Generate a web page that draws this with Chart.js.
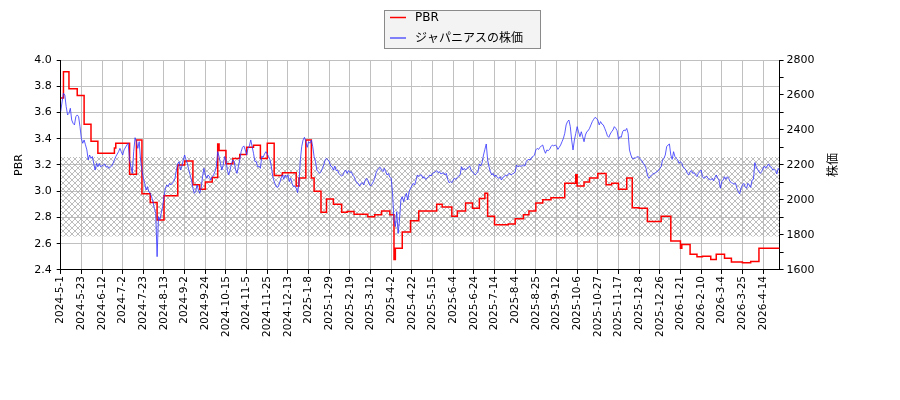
<!DOCTYPE html>
<html>
<head>
<meta charset="utf-8">
<script src="https://cdn.jsdelivr.net/npm/chart.js@4.4.1/dist/chart.umd.min.js"></script>
<style>html,body{margin:0;padding:0;background:#fff}</style>
</head>
<body>
<canvas id="chart" width="900" height="400"></canvas>
<script>
// tick labels, one every 15 trading days
const xTickLabels = ['2024-5-1','2024-5-23','2024-6-12','2024-7-2','2024-7-23','2024-8-13','2024-9-2','2024-9-24',
  '2024-10-15','2024-11-5','2024-11-25','2024-12-13','2025-1-8','2025-1-29','2025-2-19','2025-3-12','2025-4-2',
  '2025-4-22','2025-5-15','2025-6-4','2025-6-24','2025-7-14','2025-8-4','2025-8-25','2025-9-12','2025-10-6',
  '2025-10-27','2025-11-17','2025-12-8','2025-12-26','2026-1-21','2026-2-10','2026-3-4','2026-3-25','2026-4-14'];
const lastDay = 522;

// PBR: [trading day where the value starts, value]
const pbrSteps = [[0,3.71],[2,3.91],[6,3.78],[12,3.73],[17,3.51],[22,3.38],[27,3.29],[39,3.33],[40,3.365],[50,3.13],
  [55,3.39],[59,2.98],[65,2.915],[70,2.78],[75,2.965],[85,3.20],[90,3.23],[96,3.05],[101,3.015],[105,3.07],[110,3.105],
  [114,3.36],[115,3.31],[120,3.21],[125,3.25],[130,3.28],[135,3.335],[140,3.35],[145,3.25],[150,3.365],[155,3.12],
  [161,3.14],[171,3.04],[173,3.10],[178,3.39],[182,3.10],[184,3.00],[189,2.84],[193,2.94],[198,2.90],[204,2.84],
  [208,2.845],[213,2.825],[223,2.805],[228,2.82],[233,2.85],[239,2.82],[242,2.48],[243,2.565],[248,2.69],[254,2.775],
  [260,2.85],[273,2.90],[277,2.88],[284,2.81],[288,2.85],[294,2.91],[299,2.87],[304,2.945],[308,2.985],[310,2.81],
  [315,2.745],[325,2.75],[330,2.79],[336,2.82],[340,2.85],[345,2.91],[350,2.935],[356,2.95],[366,3.06],[374,3.125],
  [375,3.04],[380,3.07],[384,3.10],[390,3.135],[396,3.05],[400,3.06],[405,3.015],[411,3.10],[415,2.875],[420,2.87],
  [426,2.77],[436,2.81],[443,2.62],[450,2.565],[451,2.595],[457,2.52],[462,2.50],[466,2.505],[472,2.48],[476,2.52],
  [482,2.49],[487,2.46],[495,2.455],[501,2.465],[507,2.565],[522,2.565]];

// share price: [trading day, yen]
const stockPoints = [[0,2505],[1,2560],[2,2610],[3,2600],[4,2533],[5,2486],[6,2495],[7,2524],[8,2457],[9,2438],
  [10,2429],[11,2476],[12,2486],[13,2476],[14,2420],[15,2352],[16,2324],[17,2343],[18,2315],[19,2286],[20,2229],
  [21,2257],[22,2238],[23,2248],[24,2209],[25,2171],[26,2209],[27,2190],[28,2209],[29,2190],[31,2200],[32,2206],
  [33,2187],[34,2194],[35,2181],[37,2194],[38,2209],[39,2229],[40,2248],[42,2276],[43,2295],[44,2276],[45,2257],
  [46,2286],[48,2314],[49,2324],[50,2229],[51,2190],[52,2152],[53,2276],[54,2356],[55,2333],[56,2295],[57,2333],
  [58,2229],[59,2171],[60,2124],[61,2095],[62,2057],[63,2076],[64,2048],[65,2038],[66,2019],[67,1990],[68,1952],
  [69,1924],[70,1676],[71,1905],[72,1886],[73,1924],[74,1962],[75,2019],[76,2067],[77,2086],[78,2076],[79,2095],
  [80,2086],[82,2105],[83,2124],[84,2171],[85,2209],[86,2219],[87,2171],[88,2190],[89,2229],[90,2257],[91,2229],
  [92,2209],[93,2171],[94,2143],[95,2114],[96,2067],[97,2038],[98,2048],[99,2086],[100,2057],[101,2038],[102,2067],
  [103,2133],[104,2181],[105,2143],[106,2124],[107,2143],[108,2133],[109,2114],[110,2133],[111,2143],[112,2162],
  [113,2190],[114,2276],[115,2248],[116,2209],[117,2171],[118,2200],[119,2248],[120,2229],[121,2171],[122,2143],
  [123,2171],[124,2209],[125,2229],[126,2219],[127,2171],[128,2152],[129,2190],[130,2229],[131,2276],[132,2301],
  [133,2309],[134,2286],[135,2257],[136,2295],[137,2309],[138,2343],[139,2305],[140,2267],[141,2220],[142,2219],
  [143,2190],[144,2194],[145,2181],[146,2251],[147,2244],[148,2263],[149,2276],[150,2263],[151,2248],[152,2229],
  [153,2190],[154,2133],[155,2105],[156,2086],[157,2072],[158,2076],[159,2099],[160,2124],[161,2143],[162,2118],
  [163,2143],[164,2129],[165,2143],[166,2105],[167,2124],[168,2095],[169,2076],[170,2080],[171,2067],[172,2042],
  [173,2095],[174,2229],[175,2305],[176,2343],[177,2358],[178,2333],[179,2301],[180,2333],[181,2324],[182,2343],
  [183,2305],[184,2248],[185,2219],[186,2171],[187,2162],[188,2152],[189,2162],[190,2181],[191,2200],[192,2229],
  [193,2238],[194,2229],[195,2219],[196,2194],[197,2190],[198,2171],[199,2194],[200,2168],[201,2171],[202,2152],
  [203,2143],[204,2137],[205,2143],[206,2162],[207,2171],[208,2152],[209,2168],[210,2156],[211,2162],[212,2143],
  [213,2133],[214,2114],[215,2099],[216,2095],[217,2080],[218,2095],[219,2099],[220,2086],[221,2110],[222,2124],
  [223,2114],[224,2091],[225,2080],[226,2091],[227,2105],[228,2124],[229,2156],[230,2171],[231,2181],[232,2187],
  [233,2171],[234,2162],[235,2181],[236,2162],[237,2143],[238,2152],[239,2129],[240,2124],[241,2030],[242,1886],
  [243,1848],[244,1933],[245,1809],[246,1886],[247,2000],[248,2019],[249,1990],[250,2019],[251,2038],[252,2000],
  [253,2048],[254,2067],[255,2080],[256,2095],[257,2086],[258,2114],[259,2143],[260,2133],[261,2143],[262,2143],
  [263,2124],[264,2133],[265,2118],[266,2125],[267,2133],[268,2143],[269,2137],[270,2152],[271,2156],[272,2160],
  [273,2168],[274,2156],[275,2162],[276,2149],[277,2152],[278,2156],[279,2143],[280,2152],[281,2118],[282,2099],
  [283,2105],[284,2099],[285,2114],[286,2124],[287,2118],[288,2130],[289,2137],[290,2143],[291,2190],[292,2171],
  [293,2181],[294,2171],[295,2181],[296,2187],[297,2194],[298,2171],[299,2162],[300,2152],[301,2143],[302,2152],
  [303,2162],[304,2206],[305,2194],[306,2213],[307,2257],[308,2289],[309,2320],[310,2229],[311,2190],[312,2162],
  [313,2143],[314,2152],[315,2133],[316,2143],[317,2129],[318,2124],[319,2133],[320,2114],[321,2129],[322,2133],
  [323,2143],[324,2137],[325,2149],[326,2152],[327,2143],[328,2149],[329,2152],[330,2162],[331,2200],[332,2190],
  [333,2194],[334,2194],[335,2194],[336,2200],[337,2194],[338,2219],[339,2229],[340,2232],[341,2229],[342,2244],
  [343,2248],[344,2257],[345,2286],[346,2295],[347,2289],[348,2301],[349,2309],[350,2314],[351,2286],[352,2267],
  [353,2286],[354,2282],[355,2289],[356,2305],[357,2314],[358,2309],[359,2314],[360,2309],[361,2289],[362,2301],
  [363,2314],[364,2333],[365,2352],[366,2381],[367,2429],[368,2448],[369,2457],[370,2420],[371,2343],[372,2286],
  [373,2343],[374,2380],[375,2419],[376,2390],[377,2362],[378,2390],[379,2362],[380,2333],[381,2371],[382,2390],
  [383,2396],[384,2410],[385,2429],[386,2448],[387,2461],[388,2472],[389,2467],[390,2457],[391,2429],[392,2448],
  [393,2434],[394,2429],[395,2410],[396,2390],[397,2366],[398,2358],[399,2377],[400,2390],[401,2400],[402,2419],
  [403,2410],[404,2396],[405,2347],[406,2362],[407,2358],[408,2390],[409,2400],[410,2396],[411,2409],[412,2381],
  [413,2286],[414,2257],[415,2238],[416,2238],[417,2238],[418,2244],[419,2248],[420,2244],[421,2232],[422,2225],
  [423,2209],[424,2200],[425,2181],[426,2143],[427,2124],[428,2133],[429,2143],[430,2149],[431,2152],[432,2156],
  [433,2162],[434,2168],[435,2181],[436,2190],[437,2229],[438,2238],[439,2257],[440,2305],[441,2314],[442,2320],
  [443,2257],[444,2232],[445,2276],[446,2248],[447,2238],[448,2229],[449,2209],[450,2219],[451,2209],[452,2187],
  [453,2181],[454,2171],[455,2152],[456,2143],[457,2162],[458,2168],[459,2152],[460,2156],[461,2143],[462,2133],
  [463,2152],[464,2162],[465,2171],[466,2133],[467,2124],[468,2129],[469,2137],[470,2124],[471,2118],[472,2114],
  [473,2124],[474,2110],[475,2129],[476,2143],[477,2124],[478,2114],[479,2067],[480,2105],[481,2114],[482,2133],
  [483,2118],[484,2133],[485,2124],[486,2105],[487,2099],[488,2095],[489,2091],[490,2095],[491,2067],[492,2048],
  [493,2034],[494,2067],[495,2086],[496,2095],[497,2076],[498,2067],[499,2095],[500,2086],[501,2072],[502,2114],
  [503,2118],[504,2213],[505,2190],[506,2175],[507,2162],[508,2152],[509,2162],[510,2181],[511,2194],[512,2181],
  [513,2194],[514,2206],[515,2190],[516,2187],[517,2171],[518,2175],[519,2168],[520,2149],[521,2181],[522,2171]];

// shaded PBR range
const bandLow = 2.655;
const bandHigh = 3.26;

const FONT = "'DejaVu Sans', 'Noto Sans CJK JP', sans-serif";
Chart.defaults.font.family = FONT;
Chart.defaults.font.size = 11;
Chart.defaults.color = '#000';

function crossHatch() {
    const c = document.createElement('canvas');
    c.width = 6;
    c.height = 6;
    const g = c.getContext('2d');
    g.strokeStyle = '#acacac';
    g.lineWidth = 0.8;
    g.beginPath();
    g.moveTo(0, 0); g.lineTo(6, 6);
    g.moveTo(6, 0); g.lineTo(0, 6);
    g.stroke();
    return g.createPattern(c, 'repeat');
}

// matplotlib-like boxed legend
const boxLegend = {
    id: 'boxLegend',
    afterDraw(chart) {
        const ctx = chart.ctx;
        const items = chart.data.datasets.filter(d => d.inLegend);
        ctx.save();
        ctx.fillStyle = '#f3f3f3';
        ctx.strokeStyle = '#8a8a8a';
        ctx.lineWidth = 1;
        ctx.fillRect(384.5, 10.5, 156, 38);
        ctx.strokeRect(384.5, 10.5, 156, 38);
        ctx.font = '12px ' + FONT;
        ctx.textBaseline = 'middle';
        items.forEach((d, i) => {
            const y = 17.5 + i * 20.5;
            ctx.strokeStyle = d.borderColor;
            ctx.lineWidth = 1.5;
            ctx.beginPath();
            ctx.moveTo(390, y);
            ctx.lineTo(406, y);
            ctx.stroke();
            ctx.fillStyle = '#000';
            ctx.fillText(d.label, 415, y + 0.5);
        });
        ctx.restore();
    }
};

// right axis title reads bottom-to-top like the left one
const rightTitle = {
    id: 'rightTitle',
    afterDraw(chart) {
        const s = chart.scales.y1;
        const ctx = chart.ctx;
        ctx.save();
        ctx.font = '12px ' + FONT;
        ctx.fillStyle = '#000';
        ctx.textAlign = 'center';
        ctx.textBaseline = 'middle';
        ctx.translate(s.right - 7, (chart.chartArea.top + chart.chartArea.bottom) / 2);
        ctx.rotate(-Math.PI / 2);
        ctx.fillText(s.options.title.text, 0, 0);
        ctx.restore();
    }
};

const noLine = { pointRadius: 0, borderWidth: 0, borderColor: 'rgba(0,0,0,0)' };

new Chart(document.getElementById('chart'), {
    type: 'line',
    data: {
        datasets: [
            {
                label: 'PBR',
                inLegend: true,
                data: pbrSteps.map(([x, y]) => ({ x, y })),
                yAxisID: 'y',
                borderColor: '#ff0000',
                borderWidth: 1.5,
                stepped: true,
                pointRadius: 0,
                order: 2
            },
            {
                label: 'ジャパニアスの株価',
                inLegend: true,
                data: stockPoints.map(([x, y]) => ({ x, y })),
                yAxisID: 'y1',
                borderColor: 'rgba(50,50,255,0.8)',
                borderWidth: 1,
                pointRadius: 0,
                tension: 0,
                order: 1
            },
            {
                ...noLine,
                data: [{ x: 0, y: bandLow }, { x: lastDay, y: bandLow }],
                yAxisID: 'y',
                order: 3
            },
            {
                ...noLine,
                data: [{ x: 0, y: bandHigh }, { x: lastDay, y: bandHigh }],
                yAxisID: 'y',
                fill: '-1',
                backgroundColor: crossHatch(),
                order: 4
            }
        ]
    },
    options: {
        responsive: false,
        animation: false,
        layout: { padding: { top: 60, left: 8, right: 59, bottom: 61 } },
        plugins: {
            legend: { display: false },
            tooltip: { enabled: false }
        },
        scales: {
            x: {
                type: 'linear',
                min: 0,
                max: lastDay,
                ticks: {
                    stepSize: 15,
                    includeBounds: false,
                    autoSkip: false,
                    minRotation: 90,
                    maxRotation: 90,
                    padding: 2,
                    font: { size: 10.5 },
                    callback: v => xTickLabels[v / 15] ?? ''
                },
                grid: { color: '#c0c0c0', tickColor: '#000', tickLength: 4 },
                border: { color: '#000' }
            },
            y: {
                position: 'left',
                min: 2.4,
                max: 4.0,
                ticks: {
                    stepSize: 0.1,
                    padding: 5,
                    callback: v => (Math.round(v * 10) % 2 === 0 ? v.toFixed(1) : '')
                },
                grid: {
                    color: c => (Math.round(c.tick.value * 10) % 2 === 0 ? '#c0c0c0' : 'rgba(0,0,0,0)'),
                    tickColor: '#000',
                    tickLength: 4
                },
                border: { color: '#000' },
                title: { display: true, text: 'PBR', font: { size: 11 }, padding: { top: 5, bottom: 3 } }
            },
            y1: {
                position: 'right',
                min: 1600,
                max: 2800,
                ticks: {
                    stepSize: 100,
                    padding: 3,
                    callback: v => (v % 200 === 0 ? String(v) : '')
                },
                grid: { drawOnChartArea: false, tickColor: '#000', tickLength: 4 },
                border: { color: '#000' },
                title: {
                    display: true,
                    text: '株価',
                    color: 'rgba(0,0,0,0)',
                    font: { size: 12 },
                    padding: { top: 4, bottom: 5 }
                }
            }
        }
    },
    plugins: [boxLegend, rightTitle]
});
</script>
</body>
</html>
